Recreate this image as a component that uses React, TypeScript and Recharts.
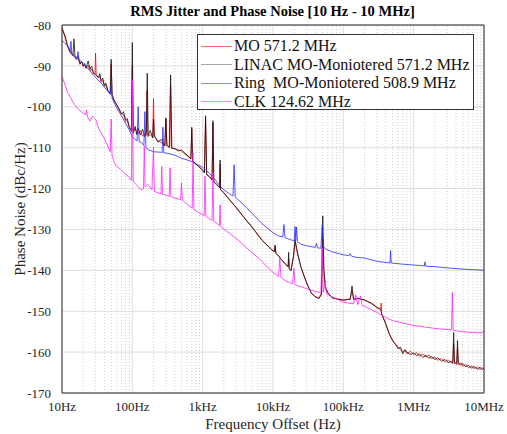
import React from 'react';
import { LineChart, Line, XAxis, YAxis, CartesianGrid, ReferenceLine } from 'recharts';

type Pt = [number, number];

// [frequency offset (Hz), phase noise (dBc/Hz)]
const MO: Pt[] = [
  [10, -80.5], [11, -83], [12, -85.3], [13, -86.8], [14, -87.2], [15, -87.8], [16, -88.2], [17, -88.4], [18, -89.3],
  [19, -89.1], [20, -90.2], [21, -89.8], [22, -90.5], [23.5, -89.9], [25, -91.2], [26.5, -90.8], [28, -91.9], [29.5, -92], [30, -86.9], [30.6, -92.2], [33, -93],
  [34.5, -92.4], [36, -94], [38, -93.6], [40, -95], [42, -94.7], [45, -96.2], [48.5, -96.8], [50, -89.5], [51.5, -97.2], [55, -98.6], [60, -99.4],
  [65, -100.8], [70, -101.7], [75, -101.9], [80, -103.5], [85, -103.4], [90, -105], [97, -105.8], [100, -90], [103, -106], [110, -105.4],
  [120, -106.6], [130, -105.8], [140, -107.2], [150, -106.5], [158, -107], [162, -96], [166, -107.3],
  [180, -106.8], [195, -107.5], [200, -98], [205, -107.2], [230, -108.3], [260, -108.8], [290, -109.4],
  [300, -103], [310, -109.5], [340, -109.8], [350, -95], [360, -110], [400, -110.3], [450, -110.5],
  [500, -110.8], [600, -112], [680, -112.8], [700, -105.5], [720, -113.2], [850, -114.5], [1000, -115.4],
  [1060, -116], [1100, -103], [1140, -116.5], [1250, -117], [1360, -117.8], [1400, -104], [1440, -118.2],
  [1600, -119], [1740, -119.8], [1770, -114], [1800, -120.2], [2000, -121], [2500, -123], [3000, -124.6],
  [4000, -127.3], [5000, -129.3], [7000, -132.6], [10000, -135.2], [10500, -135.3], [10700, -134.2],
  [11000, -135.8], [12000, -136.5], [13000, -137.2], [15000, -138.4], [16400, -139], [16700, -137.2],
  [17000, -139.5], [18000, -140], [19500, -137], [20600, -133], [22000, -135.5], [25000, -139.2],
  [30000, -143], [35000, -145.5], [40000, -146.4], [45000, -146.8], [49000, -146], [51000, -132.5],
  [53000, -141], [56000, -144.5], [60000, -145.5], [70000, -146.7], [85000, -147], [100000, -147.2],
  [125000, -147], [133000, -145], [140000, -147], [160000, -146.8], [200000, -147.3], [250000, -148],
  [300000, -149], [340000, -149.5], [345000, -148], [350000, -150.5], [400000, -153], [450000, -155.5],
  [500000, -157], [550000, -158.2], [600000, -158.6], [650000, -159.4], [700000, -159.9], [750000, -159.6],
  [800000, -160.4], [900000, -159.8], [1000000, -160.6], [1100000, -160.1], [1200000, -161], [1350000, -160.5],
  [1500000, -161.2], [1650000, -160.7], [1800000, -161.6], [2000000, -161.2], [2200000, -162], [2500000, -161.6],
  [2800000, -162.4], [3100000, -161.9], [3400000, -162.6], [3600000, -162.3], [3700000, -158], [3800000, -162.8],
  [4100000, -162.5], [4200000, -159], [4300000, -163], [4700000, -162.6], [5000000, -163.5], [5500000, -163],
  [6000000, -163.8], [6600000, -163.4], [7200000, -164], [8000000, -163.6], [8800000, -164.3], [9400000, -163.8],
  [10000000, -164.1],
];

const LINAC: Pt[] = [
  [10, -81], [11, -82.5], [12, -85], [13, -86.3], [14.3, -87.5], [14.8, -83.4], [15.3, -87.9], [16, -88.4],
  [17, -87.6], [18, -89.6], [19, -88.9], [20, -90], [21, -89.4], [22, -90.6], [23.5, -88.8], [25, -90.8], [26.5, -90.1], [28, -91.7], [30, -92.2], [33, -92.8],
  [34.5, -91.9], [36, -93.6], [38, -93], [40, -94.8], [42, -94.2], [45, -96], [48.5, -96.6], [50, -88.4], [51.5, -97], [55, -98.3], [60, -99.6], [65, -100.5],
  [70, -101.8], [75, -101.2], [80, -103.2], [85, -102.9], [90, -104.8], [97, -106], [100, -84.3], [103, -106.5], [110, -104.8],
  [115, -106.8], [120, -105.2], [130, -106.9], [140, -105.5], [150, -107.3], [158, -106.2], [163, -91.8],
  [168, -107], [180, -105.8], [195, -107.6], [200, -103], [205, -107], [230, -108.6], [260, -108],
  [290, -109.6], [300, -102.7], [310, -109.4], [335, -110], [350, -92.2], [365, -110.2], [400, -110.2],
  [450, -110.8], [500, -110.6], [600, -111.8], [680, -112.7], [700, -105], [720, -113.4], [850, -114.3],
  [1000, -115.6], [1060, -116.2], [1100, -102.2], [1140, -116.6], [1250, -117.2], [1360, -117.9],
  [1400, -103.4], [1440, -118.4], [1600, -119.2], [1740, -119.7], [1770, -113], [1800, -120.3],
  [2000, -121.1], [2500, -123.1], [3000, -124.7], [4000, -127.4], [5000, -129.4], [7000, -132.7],
  [10000, -135.3], [10500, -135.4], [10700, -133.8], [11000, -135.9], [12000, -136.4], [13000, -137.3],
  [15000, -138.5], [16400, -139.2], [16700, -135.6], [17000, -139.6], [18000, -140.1], [19500, -136.5],
  [20600, -132.5], [22000, -135.2], [25000, -139.3], [30000, -143.1], [35000, -145.6], [40000, -146.5],
  [45000, -146.9], [49000, -145.5], [51000, -126.7], [53000, -140], [56000, -144.2], [60000, -145.4],
  [70000, -146.8], [85000, -147.1], [100000, -147.3], [125000, -147.1], [133000, -143.8], [140000, -147.2],
  [160000, -146.9], [200000, -147.2], [250000, -148.1], [300000, -149.1], [340000, -149.6], [350000, -150.6],
  [400000, -153.1], [450000, -155.6], [500000, -157.2], [550000, -158], [600000, -159.2], [650000, -158.8],
  [700000, -160.4], [750000, -159.4], [800000, -160], [900000, -160.6], [1000000, -160.2], [1100000, -160.9],
  [1200000, -160.4], [1350000, -161.3], [1500000, -160.8], [1650000, -161.5], [1800000, -161.1],
  [2000000, -161.8], [2200000, -161.4], [2500000, -162.2], [2800000, -161.8], [3100000, -162.6],
  [3400000, -162.2], [3600000, -162.8], [3700000, -155.2], [3800000, -162.5], [4100000, -163],
  [4200000, -157.2], [4300000, -162.7], [4700000, -163.2], [5000000, -162.8], [5500000, -163.6],
  [6000000, -163.2], [6600000, -163.9], [7200000, -163.5], [8000000, -164.2], [8800000, -163.7],
  [9400000, -164.3], [10000000, -163.9],
];

const RING: Pt[] = [
  [10, -83.7], [11, -84.5], [12, -85], [13, -86.5], [13.4, -84], [13.8, -87], [15, -87.5], [16.4, -88],
  [16.9, -86.5], [17.4, -88.4], [18, -88.6], [20, -89.5], [22, -90.2], [25, -91.2], [28, -92.3], [30, -92.8],
  [35, -94], [40, -95.2], [45, -96.2], [48.5, -97], [50, -94.6], [51.5, -97.8], [55, -99], [60, -100.3],
  [70, -102.2], [80, -104], [90, -105.6], [100, -107.3], [110, -108], [117, -108.3], [121, -100],
  [125, -108.5], [135, -108.7], [146, -109.5], [151, -101.2], [156, -110], [170, -110.5], [200, -111],
  [250, -111.1], [265, -111.2], [272, -105], [280, -111.3], [300, -111.3], [400, -111.8], [500, -112.6],
  [600, -113], [700, -113.4], [850, -114.2], [1000, -114.8], [1200, -116], [1400, -117.2], [1600, -118.4],
  [1770, -119.4], [2000, -120.3], [2500, -121.5], [2700, -121.8], [2800, -114.2], [2900, -122],
  [3000, -122.3], [4000, -124.3], [5000, -126], [7000, -128.6], [10000, -130.8], [12000, -131.6],
  [13800, -131.8], [14300, -128.8], [14800, -132], [17000, -132.4], [20000, -132.8], [20600, -129.3],
  [21100, -132.7], [21600, -129.4], [22300, -133], [25000, -133.6], [30000, -134], [35000, -134.2],
  [40000, -134.4], [41500, -133.4], [43000, -134.5], [48000, -134.6], [50000, -129], [52000, -134.2],
  [56000, -134.8], [70000, -135.5], [100000, -136.2], [120000, -136.4], [125000, -135.9], [130000, -136.5],
  [150000, -136.8], [200000, -137], [300000, -137.8], [460000, -138.2], [470000, -135.2], [480000, -138.2],
  [700000, -138.5], [1000000, -138.7], [1420000, -138.9], [1450000, -137.9], [1480000, -139],
  [2000000, -139.1], [3000000, -139.4], [5000000, -139.7], [10000000, -140],
];

const CLK: Pt[] = [
  [10, -92.6], [11, -94.5], [12, -96.5], [13, -97.5], [15, -99.5], [18, -101], [20, -101.6], [21.8, -102],
  [22.4, -100.8], [23, -102.5], [25, -103.5], [27, -102.3], [28, -102.5], [30, -103], [32, -104.5],
  [35, -106], [40, -107.8], [45, -109.7], [48.5, -111], [50, -103], [51.5, -112], [56, -113.8], [60, -114.5],
  [70, -115.5], [80, -116.5], [87, -117], [97, -118], [100, -93.4], [103, -118.2], [109, -118.7],
  [120, -119.5], [136, -120.4], [144, -120], [148, -109.7], [152, -119.6], [167, -119], [190, -120.3],
  [200, -110], [206, -120.7], [230, -121], [255, -121.3], [262, -114.6], [269, -121.4], [300, -121.6],
  [335, -121.9], [344, -114.9], [353, -122], [400, -122.3], [485, -122.7], [500, -118.6], [515, -122.9],
  [600, -123.8], [710, -124.8], [730, -111.3], [750, -125.1], [900, -126], [1000, -126.4], [1050, -126.6],
  [1080, -117], [1110, -126.8], [1250, -127.4], [1360, -127.8], [1400, -116], [1440, -128], [1600, -128.6],
  [1730, -129], [1770, -124], [1810, -129.3], [2000, -129.9], [2700, -131.6], [3000, -132.2],
  [4200, -134.5], [5000, -135.6], [6500, -137.3], [7000, -137.9], [10000, -140.5], [12000, -141.5],
  [12500, -137], [13000, -141.8], [15000, -142.5], [19000, -143.3], [19800, -139.5], [20600, -143.5],
  [25000, -144], [30000, -144.5], [40000, -145.2], [48000, -145.4], [50000, -134.5], [52000, -145.3],
  [55000, -143], [58000, -145.8], [70000, -146.5], [100000, -147.8], [140000, -148.2], [150000, -146],
  [160000, -148.4], [175000, -146.3], [185000, -148.6], [200000, -148.8], [300000, -150.3],
  [400000, -151.5], [500000, -152.3], [1000000, -153.5], [2000000, -154.2], [3450000, -154.6],
  [3550000, -145.4], [3650000, -154.7], [5000000, -155], [8000000, -155.3], [9500000, -155.2],
  [10000000, -154.6],
];

const X_TICKS = [10, 100, 1e3, 1e4, 1e5, 1e6, 1e7];
const X_LABELS = ['10Hz', '100Hz', '1kHz', '10kHz', '100kHz', '1MHz', '10MHz'];
const MINOR_STEPS = [2, 3, 4, 5, 6, 7, 8, 9];
const Y_TICKS = [-170, -160, -150, -140, -130, -120, -110, -100, -90, -80];

const SERIES = [
  { name: 'MO 571.2 MHz', color: '#ff0000', legend: '#ff6a6a', pts: MO },
  { name: 'LINAC MO-Moniotered 571.2 MHz', color: '#111111', legend: '#a8a8a8', pts: LINAC },
  { name: 'Ring  MO-Moniotered 508.9 MHz', color: '#2a2aff', legend: '#8a8aff', pts: RING },
  { name: 'CLK 124.62 MHz', color: '#ff22ff', legend: '#ff8aff', pts: CLK },
];

const minorTicks = X_TICKS.slice(0, -1).flatMap((d) => MINOR_STEPS.map((m) => d * m));
const allTicks = [...X_TICKS, ...minorTicks].sort((a, b) => a - b);

const FONT = "'Liberation Serif', 'Times New Roman', serif";
const AXIS = '#262626';

const fmtX = (v: number) => X_LABELS[X_TICKS.indexOf(v)] ?? '';

export default function App() {
  return (
    <div style={{ position: 'absolute', left: 0, top: 0, width: 507, height: 434, background: '#fff', fontFamily: FONT }}>
      <div style={{ position: 'absolute', left: 0, width: 545, top: 3, textAlign: 'center', fontWeight: 'bold', fontSize: 14.5 }}>
        RMS Jitter and Phase Noise [10 Hz - 10 MHz]
      </div>
      <LineChart width={507} height={434} margin={{ top: 25, right: 23, bottom: 11, left: 22 }}>
        <CartesianGrid stroke="#dedede" strokeWidth={1} />
        {minorTicks.map((v) => (
          <ReferenceLine key={v} x={v} stroke="#cfcfcf" strokeDasharray="1 2" />
        ))}
        <XAxis
          dataKey="f"
          type="number"
          scale="log"
          domain={[10, 1e7]}
          allowDataOverflow
          ticks={X_TICKS}
          tickFormatter={fmtX}
          tickLine={false}
          tickMargin={3}
          axisLine={{ stroke: AXIS }}
          tick={{ fill: '#262626', fontSize: 13, fontFamily: FONT }}
          height={30}
        />
        <XAxis xAxisId="bt" type="number" scale="log" domain={[10, 1e7]} allowDataOverflow ticks={allTicks}
          mirror tick={false} tickSize={4} tickLine={{ stroke: AXIS }} axisLine={false} />
        <XAxis xAxisId="top" orientation="top" type="number" scale="log" domain={[10, 1e7]} allowDataOverflow
          ticks={allTicks} mirror tick={false} tickSize={4} tickLine={{ stroke: AXIS }} axisLine={{ stroke: AXIS }} />
        <YAxis
          type="number"
          domain={[-170, -80]}
          allowDataOverflow
          ticks={Y_TICKS}
          tickLine={false}
          tickMargin={5}
          axisLine={{ stroke: AXIS }}
          tick={{ fill: '#262626', fontSize: 13, fontFamily: FONT }}
          width={40}
        />
        <YAxis yAxisId="lt" type="number" domain={[-170, -80]} ticks={Y_TICKS} mirror tick={false}
          tickSize={5} tickLine={{ stroke: AXIS }} axisLine={false} />
        <YAxis yAxisId="rt" orientation="right" type="number" domain={[-170, -80]} ticks={Y_TICKS} mirror
          tick={false} tickSize={5} tickLine={{ stroke: AXIS }} axisLine={{ stroke: AXIS }} />
        {SERIES.map((s) => (
          <Line
            key={s.name}
            data={s.pts.map(([f, v]) => ({ f, v }))}
            dataKey="v"
            name={s.name}
            stroke={s.color}
            strokeWidth={0.8}
            dot={false}
            isAnimationActive={false}
          />
        ))}
      </LineChart>
      <div style={{ position: 'absolute', left: 0, width: 546, top: 417, lineHeight: '15px', textAlign: 'center', fontSize: 15, color: '#262626' }}>
        Frequency Offset (Hz)
      </div>
      <div
        style={{
          position: 'absolute', left: 20, top: 209, transform: 'translate(-50%, -50%) rotate(-90deg)',
          whiteSpace: 'nowrap', fontSize: 15, color: '#262626',
        }}
      >
        Phase Noise (dBc/Hz)
      </div>
      <div
        style={{
          position: 'absolute', left: 197, top: 34, width: 277, height: 76, boxSizing: 'border-box',
          border: '1px solid #333', background: '#fff', padding: '2px 0 0 3px',
        }}
      >
        {SERIES.map((s) => (
          <div key={s.name} style={{ display: 'flex', alignItems: 'center', height: 18.5 }}>
            <span style={{ display: 'inline-block', width: 31, height: 0, borderTop: `1px solid ${s.legend}`, marginRight: 2 }} />
            <span style={{ fontSize: 16, whiteSpace: 'pre', color: '#111' }}>{s.name}</span>
          </div>
        ))}
      </div>
    </div>
  );
}
